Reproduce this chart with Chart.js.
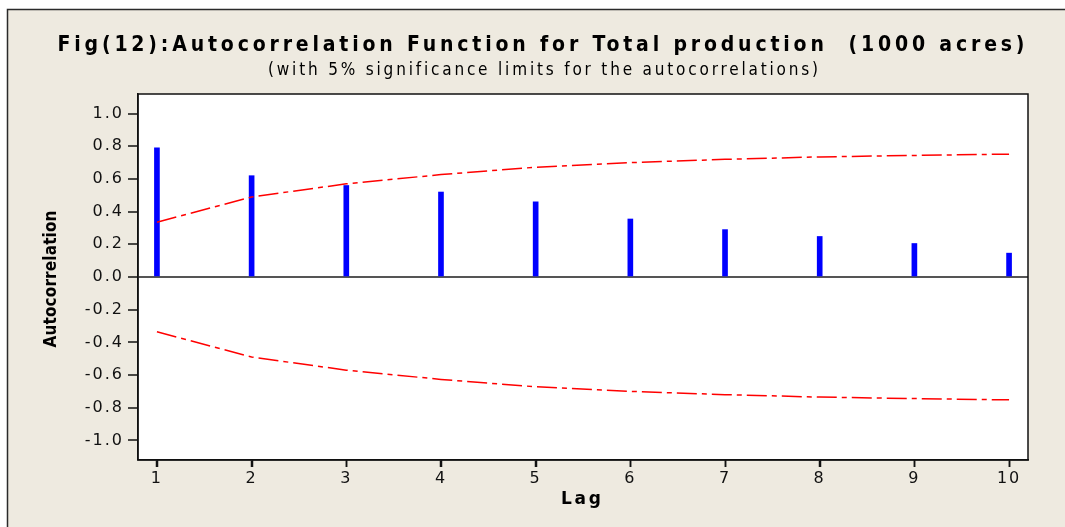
<!DOCTYPE html>
<html>
<head>
<meta charset="utf-8">
<script src="https://cdn.jsdelivr.net/npm/chart.js@4/dist/chart.umd.min.js"></script>
<style>
  html, body { margin: 0; padding: 0; background: #fff; }
  #wrap { width: 1065px; height: 527px; position: relative; }
</style>
</head>
<body>
<div id="wrap"><canvas id="c" width="1065" height="527"></canvas></div>
<script>
// ---- data ----
const lags = [1, 2, 3, 4, 5, 6, 7, 8, 9, 10];
const acf = [0.79, 0.62, 0.56, 0.52, 0.46, 0.355, 0.29, 0.248, 0.205, 0.146];
const upperLimit = [0.335, 0.49, 0.57, 0.627, 0.672, 0.70, 0.72, 0.735, 0.744, 0.752];
const lowerLimit = [-0.335, -0.49, -0.57, -0.627, -0.672, -0.70, -0.72, -0.735, -0.744, -0.752];
const yTickValues = [-1.0, -0.8, -0.6, -0.4, -0.2, 0.0, 0.2, 0.4, 0.6, 0.8, 1.0];
const titleText = 'Fig(12):Autocorrelation Function for Total production  (1000 acres)';
const subtitleText = '(with 5% significance limits for the autocorrelations)';
const yAxisTitle = 'Autocorrelation';
const xAxisTitle = 'Lag';

function spaced(ctx, text, cx, cy, targetW, font, rot) {
  ctx.save();
  ctx.font = font;
  ctx.letterSpacing = '0px';
  const w = ctx.measureText(text).width;
  const sp = Math.max(0, (targetW - w) / (text.length - 1));
  ctx.letterSpacing = sp + 'px';
  ctx.fillStyle = '#000';
  ctx.textBaseline = 'middle';
  ctx.textAlign = 'left';
  ctx.translate(cx, cy);
  if (rot) ctx.rotate(rot);
  ctx.fillText(text, -targetW / 2, 0);
  ctx.restore();
}

const framePlugin = {
  id: 'frame',
  beforeDraw(chart) {
    const ctx = chart.ctx;
    const W = chart.width, H = chart.height;
    ctx.save();
    ctx.fillStyle = '#ffffff';
    ctx.fillRect(0, 0, W, H);
    ctx.fillStyle = '#EEEAE0';
    ctx.fillRect(7, 9, W - 7, H - 9);
    ctx.strokeStyle = '#2a2a2a';
    ctx.lineWidth = 1.5;
    ctx.beginPath();
    ctx.moveTo(7.5, H); ctx.lineTo(7.5, 9.5); ctx.lineTo(W, 9.5);
    ctx.stroke();
    const a = chart.chartArea;
    ctx.fillStyle = '#ffffff';
    ctx.fillRect(a.left, a.top, a.right - a.left, a.bottom - a.top);
    ctx.restore();
    ctx.letterSpacing = '2px';
  },
  afterDraw(chart) {
    const ctx = chart.ctx;
    const a = chart.chartArea;
    const xs = chart.scales.x;
    ctx.save();
    ctx.strokeStyle = '#111';
    ctx.lineWidth = 1.5;
    ctx.strokeRect(a.left, a.top, a.right - a.left, a.bottom - a.top);
    ctx.beginPath();
    lags.forEach(v => {
      const px = Math.round(xs.getPixelForValue(v)) + 0.5;
      ctx.moveTo(px, a.bottom);
      ctx.lineTo(px, a.bottom + 7);
    });
    ctx.stroke();
    ctx.restore();
    spaced(ctx, titleText, 541, 46, 967, 'bold 21px "DejaVu Sans Condensed"', 0);
    spaced(ctx, subtitleText, 543, 71, 550, '17px "DejaVu Sans Condensed"', 0);
    spaced(ctx, yAxisTitle, 52, 279, 137, 'bold 17px "DejaVu Sans Condensed"', -Math.PI / 2);
    spaced(ctx, xAxisTitle, 581, 500, 40, 'bold 17px "DejaVu Sans"', 0);
  }
};

new Chart(document.getElementById('c'), {
  type: 'bar',
  data: {
    datasets: [
      {
        type: 'bar',
        data: lags.map((x, i) => ({ x: x, y: acf[i] })),
        backgroundColor: '#0000FF',
        borderWidth: 0,
        barThickness: 5,
        order: 2
      },
      {
        type: 'line',
        data: lags.map((x, i) => ({ x: x, y: upperLimit[i] })),
        borderColor: '#FF0000',
        borderWidth: 1.5,
        borderDash: [20, 5, 5, 5],
        pointRadius: 0,
        tension: 0,
        fill: false,
        order: 1
      },
      {
        type: 'line',
        data: lags.map((x, i) => ({ x: x, y: lowerLimit[i] })),
        borderColor: '#FF0000',
        borderWidth: 1.5,
        borderDash: [20, 5, 5, 5],
        pointRadius: 0,
        tension: 0,
        fill: false,
        order: 1
      }
    ]
  },
  options: {
    responsive: false,
    animation: false,
    devicePixelRatio: 1,
    layout: { padding: { top: 94, right: 37, left: 0, bottom: 0 } },
    plugins: { legend: { display: false }, title: { display: false }, tooltip: { enabled: false } },
    scales: {
      x: {
        type: 'linear',
        min: 0.8,
        max: 10.2,
        offset: false,
        afterFit(s) { s.height = 67; },
        afterBuildTicks(s) { s.ticks = lags.map(v => ({ value: v })); },
        grid: {
          offset: false,
          drawOnChartArea: false,
          drawTicks: true,
          tickLength: 7,
          tickColor: '#111',
          tickWidth: 1.5
        },
        border: { display: true, color: '#111', width: 1.5 },
        ticks: {
          color: '#111',
          font: { family: '"DejaVu Sans"', size: 16 },
          padding: 2,
          maxRotation: 0,
          autoSkip: false,
          callback: v => String(v)
        }
      },
      y: {
        type: 'linear',
        min: -1.12,
        max: 1.12,
        afterFit(s) { s.width = 138; },
        afterBuildTicks(s) { s.ticks = yTickValues.map(v => ({ value: v })); },
        grid: {
          drawOnChartArea: true,
          color: c => (c.tick && Math.abs(c.tick.value) < 1e-9) ? '#555' : 'rgba(0,0,0,0)',
          lineWidth: c => (c.tick && Math.abs(c.tick.value) < 1e-9) ? 2 : 0,
          tickLength: 10,
          tickColor: '#111',
          tickWidth: 1.5
        },
        border: { display: true, color: '#111', width: 1.5 },
        ticks: {
          color: '#111',
          font: { family: '"DejaVu Sans"', size: 16 },
          padding: 4,
          callback: v => v.toFixed(1)
        }
      }
    }
  },
  plugins: [framePlugin]
});
</script>
</body>
</html>
